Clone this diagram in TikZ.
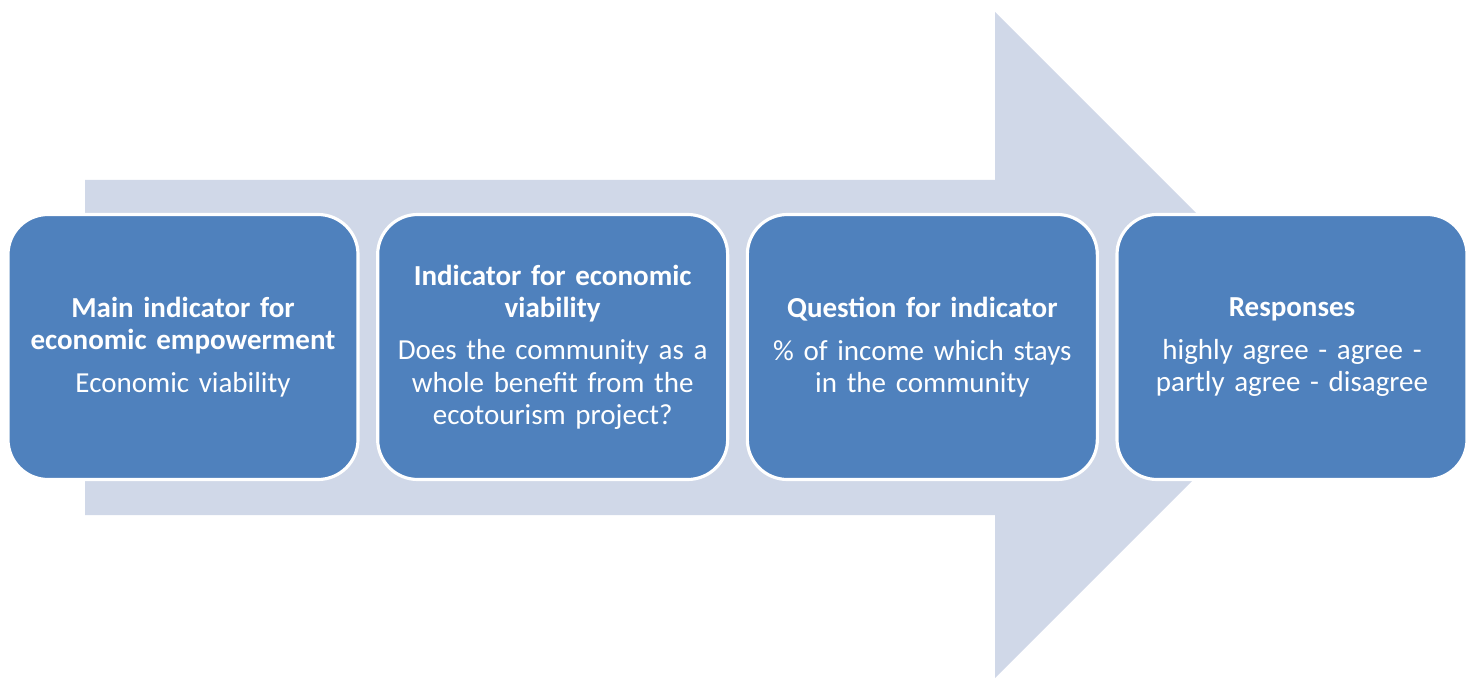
\documentclass[tikz,border=0pt]{standalone}
\usepackage{fontspec}
\setmainfont{Carlito}
\usetikzlibrary{positioning}
\definecolor{stepblue}{HTML}{4F81BD}
\definecolor{arrowgrey}{HTML}{D0D8E8}

\begin{document}
\begin{tikzpicture}[every node/.style={font=\fontsize{16.5}{18.3}\selectfont},stage/.style={rectangle,rounded corners=0.8cm,fill=stepblue,draw=white,line width=1.8pt,text=white,minimum width=7cm,minimum height=5.3cm,text width=6.7cm,align=center,inner sep=0pt},node distance=0.33cm]
\useasboundingbox (0,0) rectangle (29.36,13.56);
% big flow arrow behind the boxes
\fill[arrowgrey] (1.7,9.96)--(19.9,9.96)--(19.9,13.32)--(26.56,6.66)--(19.9,0)--(19.9,3.26)--(1.7,3.26)--cycle;
\node[stage] (main) at (3.66,6.62) {{\bfseries Main indicator for\\economic empowerment}\\[6pt]Economic viability};
\node[stage,right=of main] (ind) {{\bfseries Indicator for economic\\viability}\\[6pt]Does the community as a\\whole benefit from the\\ecotourism project?};
\node[stage,right=of ind] (quest) {{\bfseries Question for indicator}\\[6pt]\% of income which stays\\in the community};
\node[stage,right=of quest] (resp) {{\bfseries Responses}\\[6pt]highly agree - agree -\\partly agree - disagree};
\end{tikzpicture}
\end{document}
